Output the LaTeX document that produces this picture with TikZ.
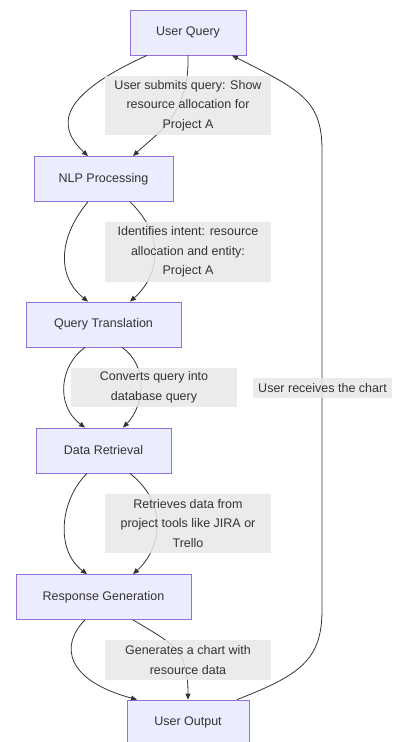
\documentclass[tikz,border=0pt]{standalone}
\usepackage{fontspec}
\setmainfont{Liberation Sans}
\usepackage{tikz}
\usetikzlibrary{arrows.meta}

\definecolor{boxfill}{HTML}{ECECFF}
\definecolor{boxline}{HTML}{9370DB}
\definecolor{lblfill}{HTML}{E8E8E8}
\definecolor{ink}{HTML}{333333}

\begin{document}
\begin{tikzpicture}[x=1pt, y=-1pt, font=\fontsize{12.5}{19.5}\selectfont, text=ink,
	stage/.style={draw=boxline, fill=boxfill, line width=0.8pt, minimum height=45pt, inner sep=0pt},
	lbl/.style={fill=lblfill, fill opacity=0.85, text opacity=1, align=center, inner sep=0pt, minimum width=166pt},
	flow/.style={draw=ink, line width=0.8pt, -{Triangle[length=6pt, width=5pt]}}]
	\def\lx{103.5}
	\def\rx{188}
	\useasboundingbox (0,0) rectangle (393,742);

	% stages
	\node[stage, minimum width=116pt] (uq)  at (\rx,32.5)  {User Query};
	\node[stage, minimum width=139pt] (nlp) at (\lx,179)   {NLP Processing};
	\node[stage, minimum width=155pt] (qt)  at (\lx,324.5) {Query Translation};
	\node[stage, minimum width=135pt] (dr)  at (\lx,450.5) {Data Retrieval};
	\node[stage, minimum width=175pt] (rg)  at (\lx,597)   {Response Generation};
	\node[stage, minimum width=122pt] (uo)  at (\rx,722.5) {User Output};

	% edges
	\draw[flow] ([xshift=-41pt]uq.south) .. controls (60,95) and (55,125) .. ([xshift=-15.5pt]nlp.north);
	\draw[flow] (uq.south) .. controls (190,115) and (155,135) .. ([xshift=29.5pt]nlp.north);
	\draw[flow] ([xshift=-15.5pt]nlp.south) .. controls (60,235) and (55,275) .. ([xshift=-15.5pt]qt.north);
	\draw[flow] ([xshift=26.5pt]nlp.south) .. controls (165,235) and (160,275) .. ([xshift=26.5pt]qt.north);
	\draw[flow] ([xshift=-18.5pt]qt.south) .. controls (60,365) and (55,405) .. ([xshift=-18.5pt]dr.north);
	\draw[flow] ([xshift=18.5pt]qt.south) .. controls (148,365) and (145,405) .. ([xshift=19.5pt]dr.north);
	\draw[flow] ([xshift=-16.5pt]dr.south) .. controls (60,500) and (55,550) .. ([xshift=-16.5pt]rg.north);
	\draw[flow] ([xshift=26.5pt]dr.south) .. controls (170,505) and (160,550) .. ([xshift=29.5pt]rg.north);
	\draw[flow] ([xshift=-18.5pt]rg.south) .. controls (60,645) and (65,680) .. ([xshift=-51pt]uo.north);
	\draw[flow] ([xshift=29.5pt]rg.south) .. controls (175,645) and (188,650) .. (uo.north);
	\draw[flow] ([xshift=49pt]uo.north) .. controls (300,675) and (322,660) .. (322,610) -- (322,150)
		.. controls (322,100) and (300,90) .. ([xshift=44pt]uq.south);

	% edge labels
	\node[lbl, minimum height=59pt] (l1) at (\rx,105.5) {User submits query: Show\\resource allocation for\\Project A};
	\node[lbl, minimum height=60pt] (l2) at (\rx,252) {Identifies intent: resource\\allocation and entity:\\Project A};
	\node[lbl, minimum height=39pt] (l3) at (154,387.5) {Converts query into\\database query};
	\node[lbl, minimum height=59pt] (l4) at (\rx,523.5) {Retrieves data from\\project tools like JIRA or\\Trello};
	\node[lbl, minimum height=40pt] (l5) at (\rx,660) {Generates a chart with\\resource data};
	\node[lbl, minimum width=139pt, minimum height=20pt] (l6) at (322.5,388) {User receives the chart};
\end{tikzpicture}
\end{document}
